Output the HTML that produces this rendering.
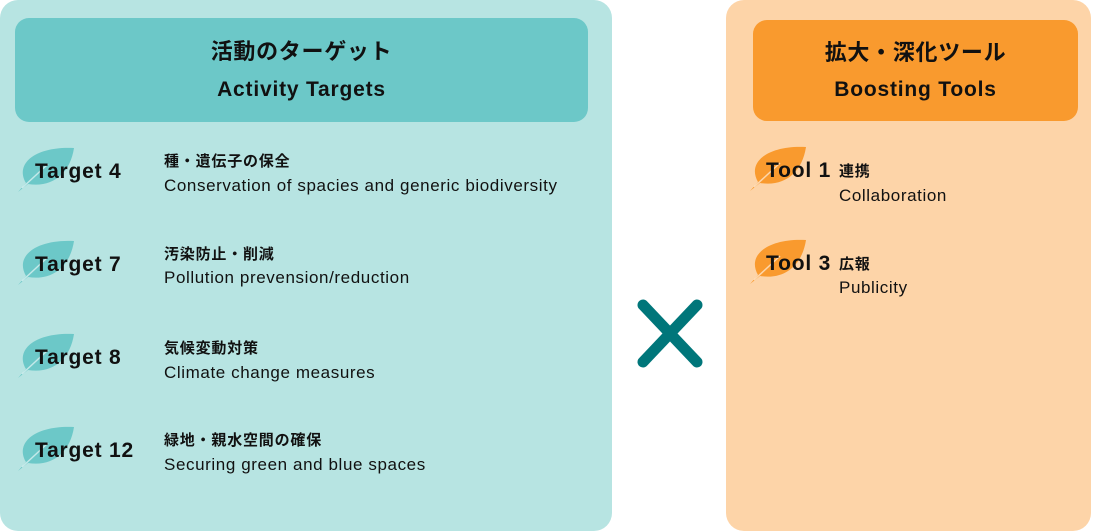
<!DOCTYPE html>
<html><head><meta charset="utf-8"><style>
body{margin:0;width:1099px;height:531px;background:#fff;position:relative;font-family:"Liberation Sans","Noto Sans CJK JP",sans-serif;color:#111;overflow:hidden}
.abs{position:absolute}
.panel{position:absolute;top:0;height:531px;border-radius:18px}
.hdr{position:absolute;border-radius:14px;text-align:center;font-weight:bold}
.hj{position:absolute;left:0;right:0;font-size:22px;letter-spacing:0.7px;line-height:26px}
.he{position:absolute;left:0;right:0;font-size:21px;letter-spacing:0.8px;line-height:26px}
.lbl{position:absolute;font-weight:bold;font-size:21px;letter-spacing:0.8px;white-space:nowrap;line-height:24px}
.jp{position:absolute;font-weight:bold;font-size:15px;letter-spacing:0.8px;white-space:nowrap;line-height:18px}
.en{position:absolute;font-size:17px;letter-spacing:0.6px;white-space:nowrap;line-height:20px}
</style></head><body>
<div class="panel" style="left:0;width:612px;background:#b7e4e2"></div>
<div class="panel" style="left:726px;width:365px;background:#fdd4a8"></div>
<div class="hdr" style="left:15px;top:18px;width:573px;height:104px;background:#6cc8c8">
<div class="hj" style="top:21px">活動のターゲット</div>
<div class="he" style="top:59px">Activity Targets</div></div>
<div class="hdr" style="left:753px;top:20px;width:325px;height:101px;background:#f99a2e">
<div class="hj" style="top:20px">拡大・深化ツール</div>
<div class="he" style="top:57px">Boosting Tools</div></div>

<svg width="1099" height="531" class="abs" style="left:0;top:0">
<defs>
<g id="lf"><path d="M2,46 L10,37 C-2,16 22,0 58,2 C54,28 36,42 12,38 Z"/><path d="M6,42 L32,18" stroke-width="1.5" fill="none" stroke="rgba(255,255,255,0.6)"/></g>
</defs>
<g fill="#6cc8c8">
<use href="#lf" x="16" y="146"/><use href="#lf" x="16" y="239"/><use href="#lf" x="16" y="332"/><use href="#lf" x="16" y="425"/></g>
<g fill="#f99a2e"><use href="#lf" x="748" y="145"/><use href="#lf" x="748" y="238"/></g>
<g stroke="#00767a" stroke-width="11" stroke-linecap="round"><line x1="643" y1="305" x2="697" y2="362"/><line x1="697" y1="305" x2="643" y2="362"/></g>
</svg>

<div class="lbl" style="left:35px;top:160px">Target 4</div>
<div class="jp" style="left:164px;top:153px">種・遺伝子の保全</div>
<div class="en" style="left:164px;top:176px">Conservation of spacies and generic biodiversity</div>
<div class="lbl" style="left:35px;top:253px">Target 7</div>
<div class="jp" style="left:164px;top:246px">汚染防止・削減</div>
<div class="en" style="left:164px;top:268px">Pollution prevension/reduction</div>
<div class="lbl" style="left:35px;top:346px">Target 8</div>
<div class="jp" style="left:164px;top:340px">気候変動対策</div>
<div class="en" style="left:164px;top:363px">Climate change measures</div>
<div class="lbl" style="left:35px;top:439px">Target 12</div>
<div class="jp" style="left:164px;top:432px">緑地・親水空間の確保</div>
<div class="en" style="left:164px;top:455px">Securing green and blue spaces</div>

<div class="lbl" style="left:766px;top:159px">Tool 1</div>
<div class="jp" style="left:839px;top:163px">連携</div>
<div class="en" style="left:839px;top:186px">Collaboration</div>
<div class="lbl" style="left:766px;top:252px">Tool 3</div>
<div class="jp" style="left:839px;top:256px">広報</div>
<div class="en" style="left:839px;top:278px">Publicity</div>
</body></html>
